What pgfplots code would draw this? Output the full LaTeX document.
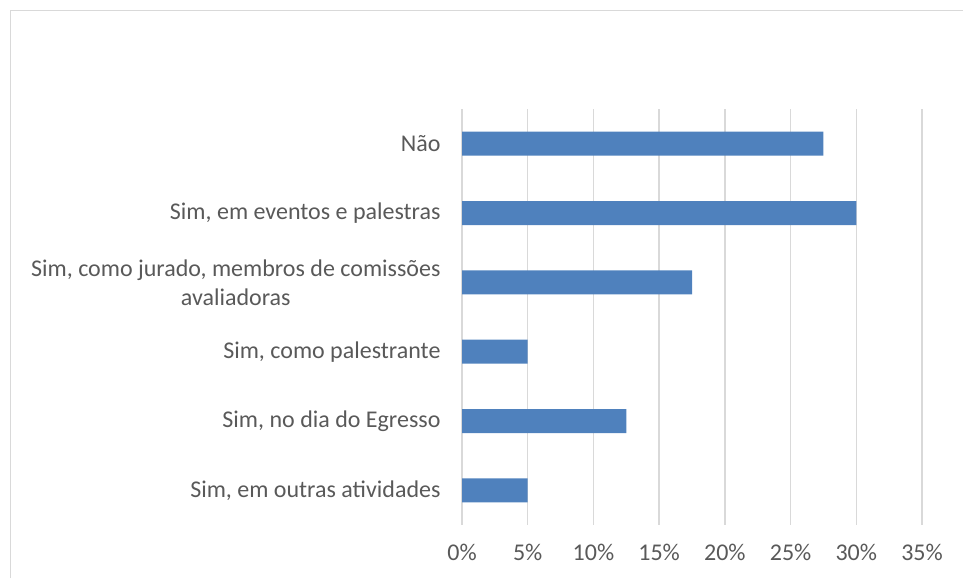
\documentclass[border=0pt]{standalone}
\usepackage{pgfplots}
\pgfplotsset{compat=1.18}
\usepackage{fontspec}
\setmainfont{Carlito}
\definecolor{barblue}{HTML}{4F81BD}
\definecolor{gridgray}{HTML}{D9D9D9}
\definecolor{txtgray}{HTML}{595959}
\begin{document}
\begin{tikzpicture}[x=1pt,y=1pt]
\path[use as bounding box] (0,0) rectangle (963,578);
\draw[gridgray, line width=1.5pt] (10.5,0) -- (10.5,567.5) -- (963,567.5);
\begin{axis}[
  at={(462pt,53pt)}, anchor=south west,
  scale only axis, width=460pt, height=416pt,
  xbar, bar width=24pt,
  xmin=0, xmax=35, ymin=-0.5, ymax=5.5, y dir=reverse,
  xtick={0,5,...,35},
  xticklabels={0\%,5\%,10\%,15\%,20\%,25\%,30\%,35\%},
  ytick={0,1,2,3,4,5},
  yticklabels={N\~ao,{Sim, em eventos e palestras},{Sim, como jurado, membros de comiss\~oes\\avaliadoras},{Sim, como palestrante},{Sim, no dia do Egresso},{Sim, em outras atividades}},
  yticklabel style={align=center, font=\fontsize{24}{29}\selectfont, text=txtgray, xshift=-18pt},
  xticklabel style={font=\fontsize{24}{29}\selectfont, text=txtgray, yshift=-16pt},
  axis line style={draw=none},
  major tick length=0pt,
  xmajorgrids, grid style={gridgray, line width=1.5pt},
]
\addplot[fill=barblue, draw=none] coordinates {(27.5,0) (30,1) (17.5,2) (5,3) (12.5,4) (5,5)};
\end{axis}
\end{tikzpicture}
\end{document}
